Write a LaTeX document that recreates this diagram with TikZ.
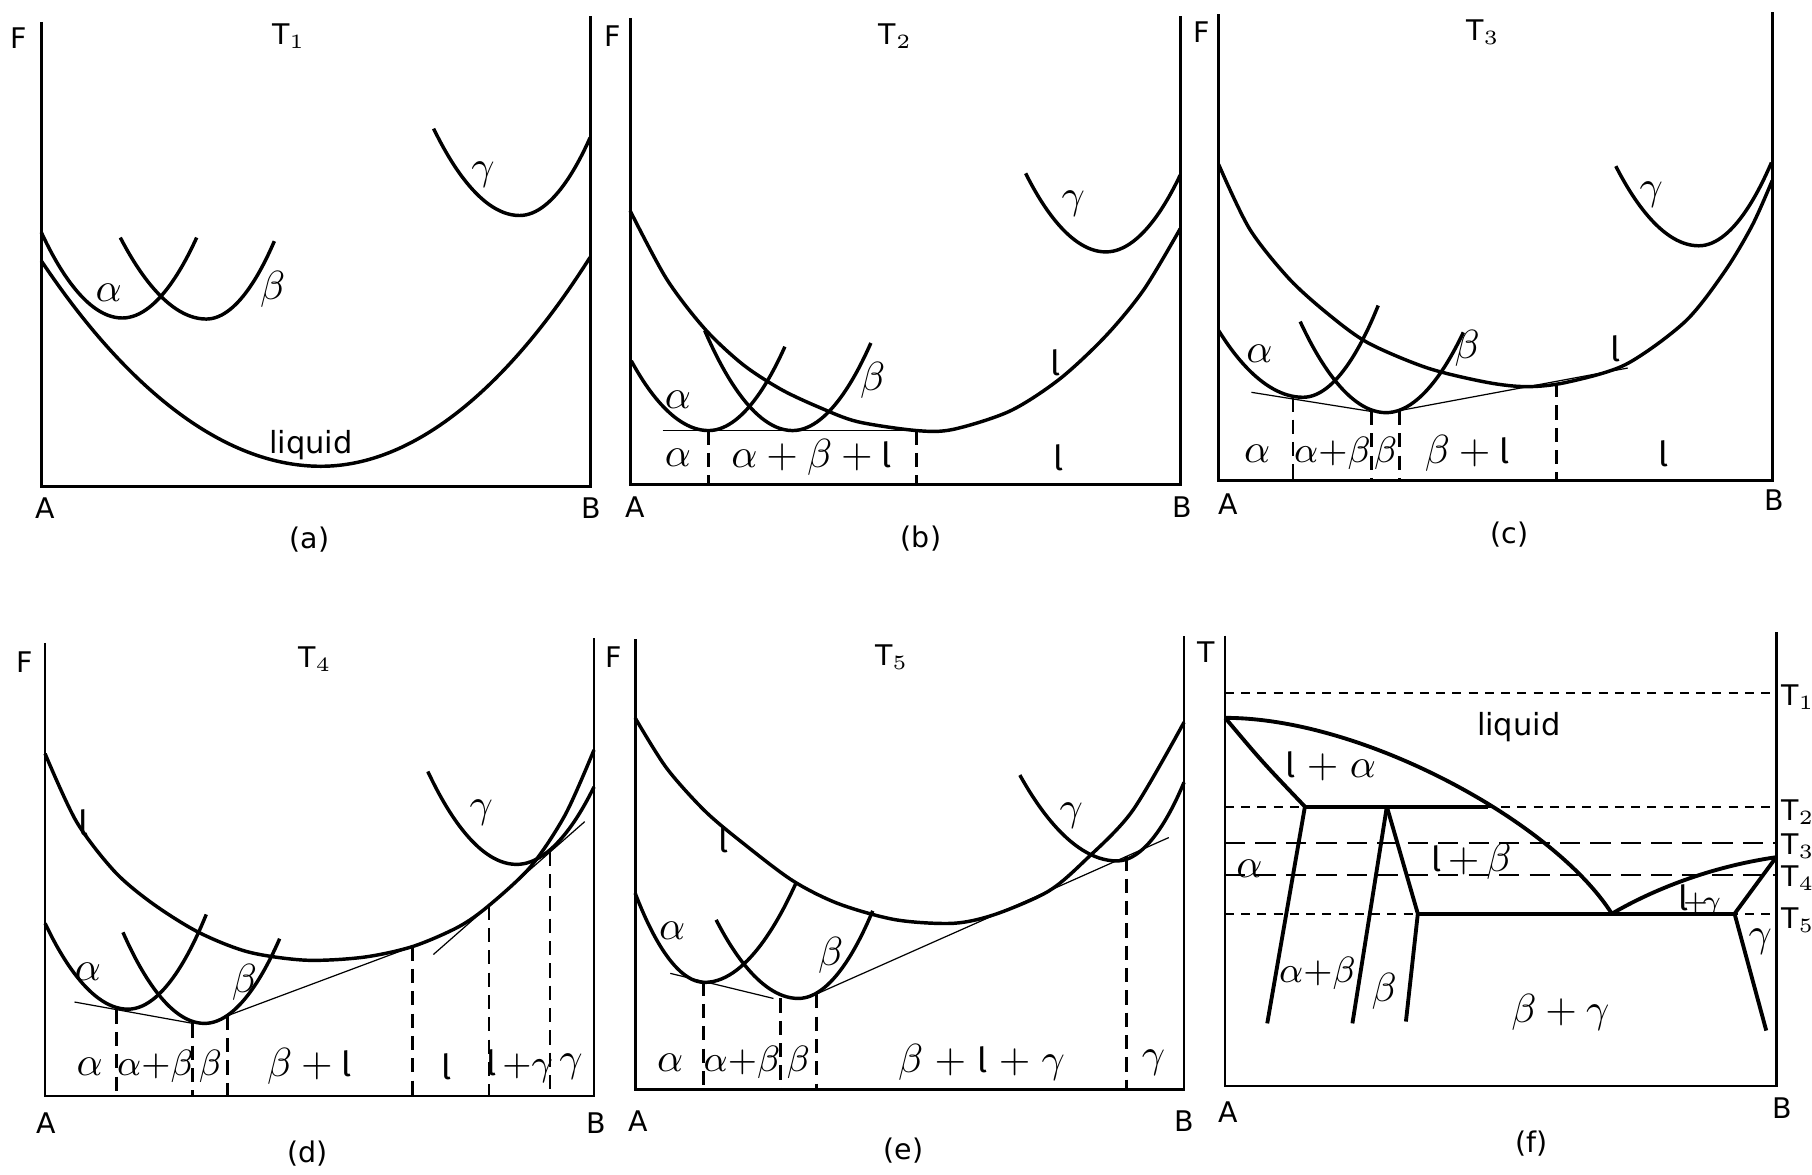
\documentclass[tikz,border=0pt]{standalone}
\usepackage{fontspec}
\setmainfont{DejaVu Sans}
\newfontfamily\tailfont{Fira Sans}
\newcommand{\liq}{{\tailfont\fontsize{8.5}{10}\selectfont l}}
\tikzset{
  frameline/.style={line width=0.7pt},
  fcurve/.style={line width=0.85pt},
  tanline/.style={line width=0.3pt},
  phasecut/.style={line width=0.7pt,dash pattern=on 3.5pt off 2pt},
  tline/.style={line width=0.5pt,dash pattern=on 2.2pt off 1.8pt},
  tlinelong/.style={line width=0.55pt,dash pattern=on 5pt off 2.5pt},
  boundary/.style={line width=0.95pt},
  phase/.style={font=\fontsize{10}{12}\selectfont,inner sep=0pt},
  tightphase/.style={font=\fontsize{9}{11}\selectfont,inner sep=0pt},
  axlabel/.style={font=\fontsize{7}{8}\selectfont,inner sep=0pt},
  word/.style={font=\fontsize{7.5}{9}\selectfont,inner sep=0pt},
}
\begin{document}
\begin{tikzpicture}[x=0.1mm,y=-0.1mm]
  \useasboundingbox (0,0) rectangle (1568,1016);

  % (a) at T1
  \draw[frameline] (35.7,19) -- (35.7,421) -- (510.7,421) -- (510.7,14);
  \node[axlabel] (Fa) at (16.5,33) {F};
  \node[axlabel] (Ta) at (250,31) {T$_1$};
  \node[axlabel] (Aa) at (39,440) {A};
  \node[axlabel] (Ba) at (512,440) {B};
  \node[axlabel] (capa) at (268,467) {(a)};
  \draw[fcurve] (35.7,225.7) parabola bend (277.7,403.5) (510.7,222.6);
  \draw[fcurve] (35.7,201) parabola bend (105.8,275.2) (170.2,205.6);
  \draw[fcurve] (104.1,205.6) parabola bend (178.5,276.1) (237.4,208.7);
  \draw[fcurve] (375.2,111.3) parabola bend (449.6,186.5) (510.7,119);
  \node[word] (liqa) at (269,385) {liquid};
  \node[phase] (alpa) at (94,253) {$\alpha$};
  \node[phase] (beta) at (236,250) {$\beta$};
  \node[phase] (gama) at (418,151) {$\gamma$};

  % (b) at T2
  \draw[frameline] (545.3,15.5) -- (545.3,419.6) -- (1021.3,419.6) -- (1021.3,14);
  \node[axlabel] (Fb) at (530.4,31) {F};
  \node[axlabel] (Tb) at (775,31) {T$_2$};
  \node[axlabel] (Ab) at (549.6,439) {A};
  \node[axlabel] (Bb) at (1023,439) {B};
  \node[axlabel] (capb) at (797,466) {(b)};
  \draw[fcurve] plot[smooth] coordinates {(545.3,182.4) (576.7,241.2)
    (609.8,284.5) (642.8,315.4) (675.9,337) (708.9,352.5) (742,364.9)
    (793.2,372.6) (824.7,371.6) (874.2,355.6) (917.2,327.8) (956.9,290.7)
    (989.9,250.5) (1021.3,197.9)};
  \draw[fcurve] (546.3,312.3) parabola bend (613.1,372.6) (679.2,300);
  \draw[fcurve] (609.8,286) parabola bend (685.8,372.6) (753.6,296.8);
  \draw[fcurve] (887.5,150) parabola bend (956.9,218) (1021.3,151.5);
  \draw[tanline] (573.4,372.6) -- (821.3,372.6);
  \draw[phasecut] (613.1,372.6) -- (613.1,419.6);
  \draw[phasecut] (793.2,372.6) -- (793.2,419.6);
  \node[phase] (alpb) at (586.6,346.3) {$\alpha$};
  \node[phase] (betb) at (755.2,329.3) {$\beta$};
  \node[phase] (liqb) at (913,314) {\liq};
  \node[phase] (gamb) at (928.8,176.3) {$\gamma$};
  \node[phase] (rab1) at (586.6,395.8) {$\alpha$};
  \node[phase] (rab2) at (702.3,395.8) {$\alpha+\beta+{}$\liq};
  \node[phase] (rab3) at (915.6,395.8) {\liq};

  % (c) at T3
  \draw[frameline] (1054.5,12.4) -- (1054.5,415.9) -- (1533.6,415.9) -- (1533.6,10.8);
  \node[axlabel] (Fc) at (1040,28) {F};
  \node[axlabel] (Tc) at (1283.4,28) {T$_3$};
  \node[axlabel] (Ac) at (1063,436) {A};
  \node[axlabel] (Bc) at (1535,433) {B};
  \node[axlabel] (capc) at (1306,463) {(c)};
  \draw[fcurve] plot[smooth] coordinates {(1054.5,142.2) (1081.2,197.9)
    (1115.5,241.2) (1149.7,272.1) (1184,296.8) (1235.4,318.5) (1286.8,330.9)
    (1321.1,334.6) (1355.4,330.9) (1406.8,315.4) (1458.2,278.3) (1492.4,235)
    (1516.4,194.8) (1533.6,156.2)};
  \draw[fcurve] (1054.5,286) parabola bend (1127.5,343.8) (1192.6,264.4);
  \draw[fcurve] (1125.1,278.3) parabola bend (1199.4,357.1) (1266.3,287.6);
  \draw[fcurve] (1398.2,143.8) parabola bend (1470,212.7) (1532.9,140.7);
  \draw[tanline] (1082.9,339.5) -- (1187.4,356.2);
  \draw[tanline] (1206.3,356.2) -- (1408.5,318.5);
  \draw[phasecut] (1118.9,343.8) -- (1118.9,415.9);
  \draw[phasecut] (1186.8,355.6) -- (1186.8,415.9);
  \draw[phasecut] (1211.4,355.6) -- (1211.4,415.9);
  \draw[phasecut] (1346.8,331.5) -- (1346.8,415.9);
  \node[phase] (alpc) at (1089.8,306.1) {$\alpha$};
  \node[phase] (betc) at (1269.7,301.5) {$\beta$};
  \node[phase] (liqc) at (1398.2,301.5) {\liq};
  \node[phase] (gamc) at (1429,168.5) {$\gamma$};
  \node[phase] (rac1) at (1088,392.7) {$\alpha$};
  \node[tightphase] (rac2) at (1153,392.7) {$\alpha{+}\beta$};
  \node[tightphase] (rac3) at (1199,392.7) {$\beta$};
  \node[phase] (rac4) at (1269.7,392.7) {$\beta+{}$\liq};
  \node[phase] (rac5) at (1439.3,392.7) {\liq};

  % (d) at T4
  \draw[frameline] (39,556.3) -- (39,948.4) -- (514,948.4) -- (514,551.7);
  \node[axlabel] (Fd) at (21.5,573) {F};
  \node[axlabel] (Td) at (272.7,570) {T$_4$};
  \node[axlabel] (Ad) at (39.7,972) {A};
  \node[axlabel] (Bd) at (515.7,972) {B};
  \node[axlabel] (capd) at (266,998) {(d)};
  \draw[fcurve] plot[smooth] coordinates {(39,652.2) (66.1,710.9)
    (99.2,754.2) (132.2,782) (171.9,806.8) (214.9,823.8) (264.5,830.9)
    (314,828.4) (357,819.1) (396.7,802.1) (423.1,783.6) (459.5,749.6)
    (489.3,704.7) (514,649)};
  \draw[fcurve] (39,799) parabola bend (110.7,873.3) (178.5,791.3);
  \draw[fcurve] (106.4,806.8) parabola bend (176.9,885.6) (242,812.3);
  \draw[fcurve] (370.2,667.6) parabola bend (447,748) (514,681);
  \draw[tanline] (64.5,867.1) -- (166.9,885.6);
  \draw[tanline] (196.7,879) -- (360,818);
  \draw[tanline] (375,826) -- (506,711);
  \draw[phasecut] (100.8,873.6) -- (100.8,948.4);
  \draw[phasecut] (166.9,885.6) -- (166.9,948.4);
  \draw[phasecut] (196.7,879) -- (196.7,948.4);
  \draw[phasecut] (357,819.1) -- (357,948.4);
  \draw[phasecut] (423.1,783.6) -- (423.1,948.4);
  \draw[phasecut] (476,737) -- (476,948.4);
  \node[phase] (liqd) at (72,712) {\liq};
  \node[phase] (alpd) at (76,840.8) {$\alpha$};
  \node[phase] (betd) at (211.6,850.1) {$\beta$};
  \node[phase] (gamd) at (416.5,703.2) {$\gamma$};
  \node[phase] (rad1) at (77.7,922.7) {$\alpha$};
  \node[tightphase] (rad2) at (134.5,922.7) {$\alpha{+}\beta$};
  \node[tightphase] (rad3) at (182,922.7) {$\beta$};
  \node[phase] (rad4) at (267.8,922.7) {$\beta+{}$\liq};
  \node[phase] (rad5) at (386.8,922.7) {\liq};
  \node[tightphase] (rad6) at (449.6,922.7) {\liq$\,{+}\gamma$};
  \node[phase] (rad7) at (494.2,922.7) {$\gamma$};

  % (e) at T5
  \draw[frameline] (549.6,553.2) -- (549.6,942.8) -- (1024.6,942.8) -- (1024.6,550.1);
  \node[axlabel] (Fe) at (531.1,569) {F};
  \node[axlabel] (Te) at (771.8,569) {T$_5$};
  \node[axlabel] (Ae) at (551.9,970) {A};
  \node[axlabel] (Be) at (1024.6,970) {B};
  \node[axlabel] (cape) at (782,996) {(e)};
  \draw[fcurve] plot[smooth] coordinates {(549.6,621.2) (576.7,664.5)
    (609.8,701.6) (642.8,729.5) (685.8,762) (725.5,782) (775,795.9)
    (824.7,799) (861,791.3) (907.3,771.2) (939.5,744) (980,701.6)
    (1024.6,625)};
  \draw[fcurve] (549.6,772.8) parabola bend (609.8,850.1) (689.1,763.5);
  \draw[fcurve] (619.7,796) parabola bend (690.8,864) (755.2,788.2);
  \draw[fcurve] (882.5,670.7) parabola bend (966.5,745) (1024.6,677);
  \draw[tanline] (580,842.3) -- (669.3,864);
  \draw[tanline] (706.3,860.3) -- (1011.4,724.8);
  \draw[phasecut] (609.1,849.4) -- (609.1,942.8);
  \draw[phasecut] (675.2,864) -- (675.2,942.8);
  \draw[phasecut] (706.3,860.3) -- (706.3,942.8);
  \draw[phasecut] (975,741) -- (975,942.8);
  \node[phase] (liqe) at (626.3,727) {\liq};
  \node[phase] (alpe) at (581.7,805.2) {$\alpha$};
  \node[phase] (bete) at (718.9,826.9) {$\beta$};
  \node[phase] (game) at (927.1,706.3) {$\gamma$};
  \node[phase] (rae1) at (580,919.6) {$\alpha$};
  \node[tightphase] (rae2) at (642,919.6) {$\alpha{+}\beta$};
  \node[tightphase] (rae3) at (691,919.6) {$\beta$};
  \node[phase] (rae4) at (849.4,919.6) {$\beta\;+\;$\liq$\;+\;\gamma$};
  \node[phase] (rae5) at (998.2,919.6) {$\gamma$};

  % (f) phase diagram
  \draw[frameline] (1060,550.1) -- (1060,939.7) -- (1537,939.7) -- (1537,547);
  \node[axlabel] (Tf) at (1043.5,564) {T};
  \node[axlabel] (Af) at (1062.4,962) {A};
  \node[axlabel] (Bf) at (1542,959) {B};
  \node[axlabel] (capf) at (1325,990) {(f)};
  \draw[tline] (1060,600) -- (1537,600);
  \draw[tline] (1060,698) -- (1537,698);
  \draw[tlinelong] (1060,729.5) -- (1537,729.5);
  \draw[tlinelong] (1060,757.3) -- (1537,757.3);
  \draw[tline] (1060,791) -- (1537,791);
  \node[axlabel,anchor=west] (T1f) at (1541,603) {T$_1$};
  \node[axlabel,anchor=west] (T2f) at (1541,703) {T$_2$};
  \node[axlabel,anchor=west] (T3f) at (1541,732) {T$_3$};
  \node[axlabel,anchor=west] (T4f) at (1541,760) {T$_4$};
  \node[axlabel,anchor=west] (T5f) at (1541,796) {T$_5$};
  \draw[boundary] (1060.2,621.2) .. controls (1180,621.2) and (1345,712) .. (1394.8,790.7);
  \draw[boundary] (1060.2,621.2) .. controls (1092,659) .. (1129.2,698);
  \draw[boundary] (1129.2,698) -- (1288,698);
  \draw[boundary] (1129.2,698) -- (1096.6,885.6);
  \draw[boundary] (1200.1,698) -- (1170.3,885.6);
  \draw[boundary] (1200.1,698) -- (1226.9,790.7) -- (1216.6,884);
  \draw[boundary] (1226.9,790.7) -- (1501,790.7);
  \draw[boundary] (1394.8,790.7) .. controls (1430,770) and (1480,750) .. (1537,741.8);
  \draw[boundary] (1501,790.7) -- (1537,741.8);
  \draw[boundary] (1501,790.7) -- (1528.4,891.8);
  \node[word] (liqf) at (1314.2,629) {liquid};
  \node[phase] (laf) at (1151.5,663) {\liq$\;+\;\alpha$};
  \node[phase] (alpf) at (1081.2,752) {$\alpha$};
  \node[phase] (lbf) at (1273.1,745) {\liq$\,+\,\beta$};
  \node[phase,font=\fontsize{7.5}{9}\selectfont] (lgf) at (1471,779) {\liq$\!+\!\gamma$};
  \node[phase] (gamf) at (1523.3,814.5) {$\gamma$};
  \node[tightphase] (abf) at (1140,842) {$\alpha{+}\beta$};
  \node[phase] (betf) at (1197.7,858) {$\beta$};
  \node[phase] (bgf) at (1350.2,876) {$\beta+\gamma$};
\end{tikzpicture}
\end{document}
